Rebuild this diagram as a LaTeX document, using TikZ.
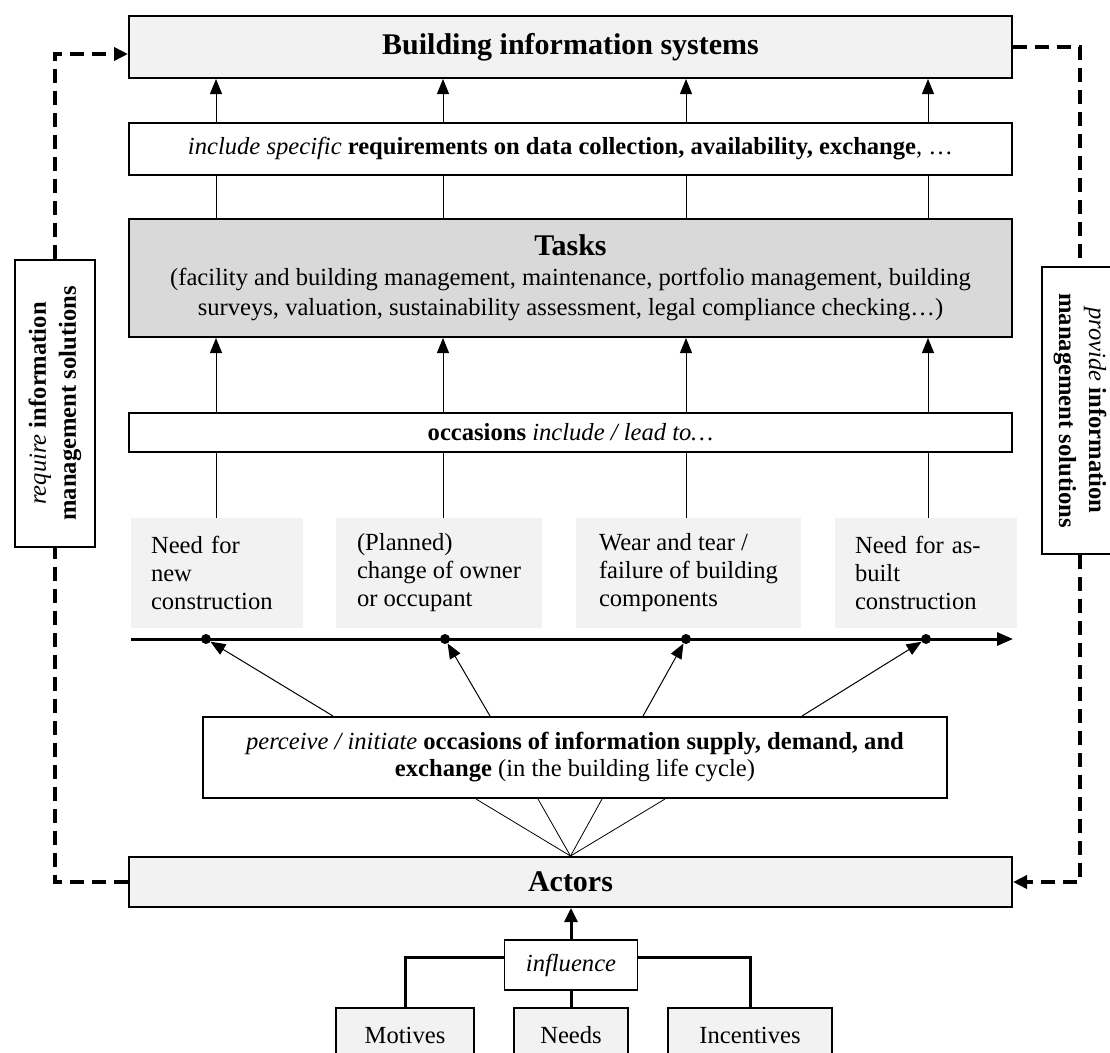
\documentclass[tikz,border=0pt]{standalone}
\usepackage{fontspec}
\setmainfont{Liberation Serif}
\usetikzlibrary{arrows.meta}
\definecolor{lightg}{HTML}{F2F2F2}
\definecolor{midg}{HTML}{D9D9D9}
\begin{document}
\begin{tikzpicture}[x=1pt,y=-1pt,
  every node/.style={font=\fontsize{24.6}{30}\selectfont},
  titlef/.style={font=\fontsize{30}{36}\selectfont\bfseries},
  mbox/.style={draw, line width=2pt, inner sep=0pt, align=center, minimum width=883pt},
  sbox/.style={draw, line width=2pt, fill=white, inner sep=0pt, align=center},
  gbox/.style={fill=lightg, inner xsep=20pt, inner ysep=0pt, minimum height=110pt, align=left, font=\fontsize{24.6}{28}\selectfont},
  bbox/.style={draw, line width=1.5pt, fill=lightg, minimum height=54pt, inner sep=0pt},
  arr/.style={line width=1pt, -{Triangle[length=15pt,width=12pt]}},
  thinl/.style={line width=1pt},
  dshl/.style={line width=4.5pt, dash pattern=on 14pt off 8pt},
  dsharr/.style={dshl, -{Triangle[length=14pt,width=13pt]}},
  dotn/.style={circle, fill=black, inner sep=0pt, minimum size=10pt},
  thick3/.style={line width=3pt}
  ]
\clip (0,0) rectangle (1110,1052);
% main boxes
\node[mbox, titlef, fill=lightg, minimum height=62pt] (bis) at (570.5,47) {Building information systems};
\node[mbox, minimum height=52pt] (inc) at (570.5,149) {\textit{include specific} \textbf{requirements on data collection, availability, exchange}, …};
\node[mbox, fill=midg, minimum height=118pt] (tasks) at (570.5,278) {{\fontsize{30}{36}\selectfont\bfseries Tasks}\\(facility and building management, maintenance, portfolio management, building\\surveys, valuation, sustainability assessment, legal compliance checking…)};
\node[mbox, minimum height=39pt] (occ) at (570.5,432.5) {\textbf{occasions} \textit{include / lead to…}};
% occasion boxes
\node[gbox, text width=132pt] (gb1) at (217,573) {Need for\\new\\construction};
\node[gbox, inner xsep=0pt, minimum width=206pt] (gb2) at (439,573) {(Planned)\\change of owner\\or occupant};
\node[gbox, inner xsep=0pt, minimum width=225pt] (gb3) at (688.5,573) {Wear and tear /\\failure of building\\components};
\node[gbox, text width=142pt] (gb4) at (926,573) {Need for as-\\built\\construction};
% timeline
\coordinate (t0) at (131,639);
\coordinate (t1) at (1013,639);
\draw[thick3, -{Triangle[length=16pt,width=13pt]}] (t0) -- (t1);
\node[dotn] (d1) at (206,639) {};
\node[dotn] (d2) at (445,639) {};
\node[dotn] (d3) at (686,639) {};
\node[dotn] (d4) at (926,639) {};
% perceive box
\node[sbox, minimum width=744pt, minimum height=81pt, font=\fontsize{24.6}{27}\selectfont] (perc) at (575,757.5) {\textit{perceive / initiate} \textbf{occasions of information supply, demand, and}\\\textbf{exchange} (in the building life cycle)};
% actors
\node[mbox, titlef, fill=lightg, minimum height=50pt] (actors) at (570.5,882) {Actors};
\node[draw, line width=1.5pt, fill=white, minimum width=133pt, minimum height=50pt, inner sep=0pt] (infl) at (571,965) {\textit{influence}};
\node[bbox, minimum width=138pt] (mot) at (405,1035) {Motives};
\node[bbox, minimum width=114pt] (need) at (571,1035) {Needs};
\node[bbox, minimum width=164pt] (ince) at (750,1035) {Incentives};
% side boxes
\node[sbox, rotate=90, minimum width=287pt, minimum height=80pt] (lsb) at (55,403.5) {\textit{require} \textbf{information}\\\textbf{management solutions}};
\node[sbox, rotate=-90, minimum width=287pt, minimum height=76pt] (rsb) at (1080,410.5) {\textit{provide} \textbf{information}\\\textbf{management solutions}};
% columns
\coordinate (c1) at (216,0);
\coordinate (c2) at (443,0);
\coordinate (c3) at (686,0);
\coordinate (c4) at (928,0);
\foreach \i/\g in {1/gb1,2/gb2,3/gb3,4/gb4} {
  \draw[arr] (inc.north -| c\i) -- (bis.south -| c\i);
  \draw[thinl] (tasks.north -| c\i) -- (inc.south -| c\i);
  \draw[arr] (occ.north -| c\i) -- (tasks.south -| c\i);
  \draw[thinl] (occ.south -| c\i) -- (\g.north -| c\i);
}
% perceive arrows to dots
\draw[arr] ([xshift=-242pt]perc.north) -- (d1);
\draw[arr] ([xshift=-85pt]perc.north) -- (d2);
\draw[arr] ([xshift=68pt]perc.north) -- (d3);
\draw[arr] ([xshift=227pt]perc.north) -- (d4);
% fan
\foreach \dx in {-99,-37,27,90} \draw[line width=0.8pt] ([xshift=\dx pt]perc.south) -- (actors.north);
% influence connectors
\draw[thick3] ([yshift=8pt]infl.west) -| (mot.north);
\draw[thick3] ([yshift=8pt]infl.east) -| (ince.north);
\draw[thick3] (infl.south) -- (need.north);
\draw[thick3, -{Triangle[length=14pt,width=13pt]}] (infl.north) -- (infl.north |- actors.south);
% dashed loops
\draw[dshl] (actors.west) -| (lsb.west);
\draw[dsharr] (lsb.east) |- ([yshift=-7pt]bis.west);
\draw[dshl] (bis.east) -| (rsb.west);
\draw[dsharr] (rsb.east) |- (actors.east);
\end{tikzpicture}
\end{document}
